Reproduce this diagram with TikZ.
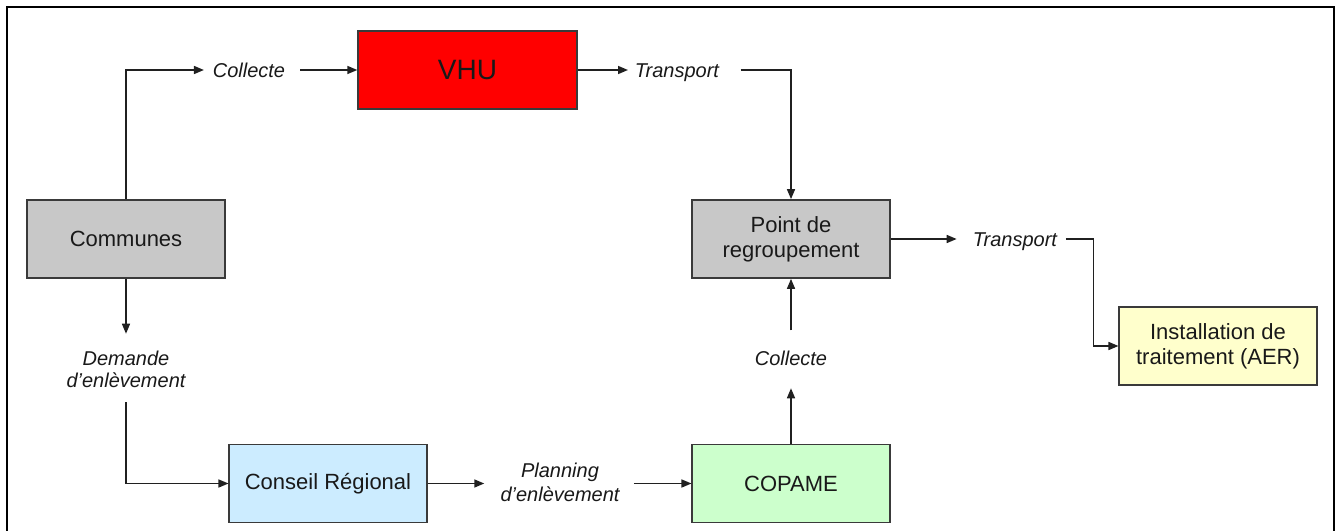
\documentclass[tikz,border=0pt]{standalone}
\usepackage{fontspec}
\setmainfont{Liberation Sans}
\usetikzlibrary{arrows.meta,calc}
\definecolor{edgec}{HTML}{3A3A3A}
\definecolor{linec}{HTML}{202020}
\definecolor{boxgray}{HTML}{C8C8C8}
\definecolor{boxred}{HTML}{FF0000}
\definecolor{boxblue}{HTML}{CCECFF}
\definecolor{boxgreen}{HTML}{CCFFCC}
\definecolor{boxyellow}{HTML}{FFFFCC}
\begin{document}
\begin{tikzpicture}[x=0.75pt,y=-0.75pt,
  box/.style={draw=edgec,line width=1.3pt,minimum width=148pt,minimum height=58.5pt,inner sep=0pt,align=center,text=black!90,font=\fontsize{16.5}{19}\selectfont},
  labtwo/.style={inner sep=0pt,align=center,text=black!90,font=\fontsize{15}{16.5}\selectfont\itshape},
  lab/.style={labtwo,text height=11pt,text depth=0pt},
  arr/.style={draw=linec,line width=1.15pt,-{Triangle[length=7.5pt,width=6pt]}},
]
\useasboundingbox (0,0) rectangle (1340,531);
\draw[line width=2.2pt,line cap=rect] (7,540) -- (7,7) -- (1334,7) -- (1334,540);

% boxes
\node[box,fill=boxred,minimum width=164pt,font=\fontsize{21}{24}\selectfont] (vhu) at (467.5,70) {VHU};
\node[box,fill=boxgray] (communes) at (126,239) {Communes};
\node[box,fill=boxgray] (point) at (791,239) {Point de\\regroupement};
\node[box,fill=boxyellow] (install) at (1218,346) {Installation de\\traitement (AER)};
\node[box,fill=boxblue] (conseil) at (328,483.5) {Conseil R\'egional};
\node[box,fill=boxgreen] (copame) at (791,483.5) {COPAME};

% labels
\node[lab] (col1) at (249,70) {Collecte};
\node[lab] (tr1) at (677,70) {Transport};
\node[lab] (tr2) at (1015,239) {Transport};
\node[lab] (col2) at (791,358) {Collecte};
\node[labtwo] (dem) at (126,369) {Demande\\d'enl\`evement};
\node[labtwo,font=\fontsize{15}{18}\selectfont\itshape] (plan) at (560,482) {Planning\\d'enl\`evement};

% connectors
\draw[arr,shorten >=6.5pt] (communes.north) |- (col1.west);
\draw[arr,shorten <=11pt] (col1.east) -- (vhu.west);
\draw[arr,shorten >=5pt] (vhu.east) -- (tr1.west);
\draw[arr,shorten <=16pt] (tr1.east) -| (point.north);
\draw[arr,shorten >=12pt] (point.east) -- (tr2.west);
\draw[arr,shorten <=6.5pt] (tr2.east) -- ++(36,0) |- (install.west);
\draw[arr,shorten >=12.5pt] (communes.south) -- (dem.north);
\draw[arr,shorten <=11pt] (dem.south) |- (conseil.west);
\draw[arr,shorten >=12pt] (conseil.east) -- (conseil.east -| plan.west);
\draw[arr,shorten <=10.5pt] (copame.west -| plan.east) -- (copame.west);
\draw[arr,shorten >=17pt] (copame.north) -- (col2.south);
\draw[arr,shorten <=15pt] (col2.north) -- (point.south);
\end{tikzpicture}
\end{document}
